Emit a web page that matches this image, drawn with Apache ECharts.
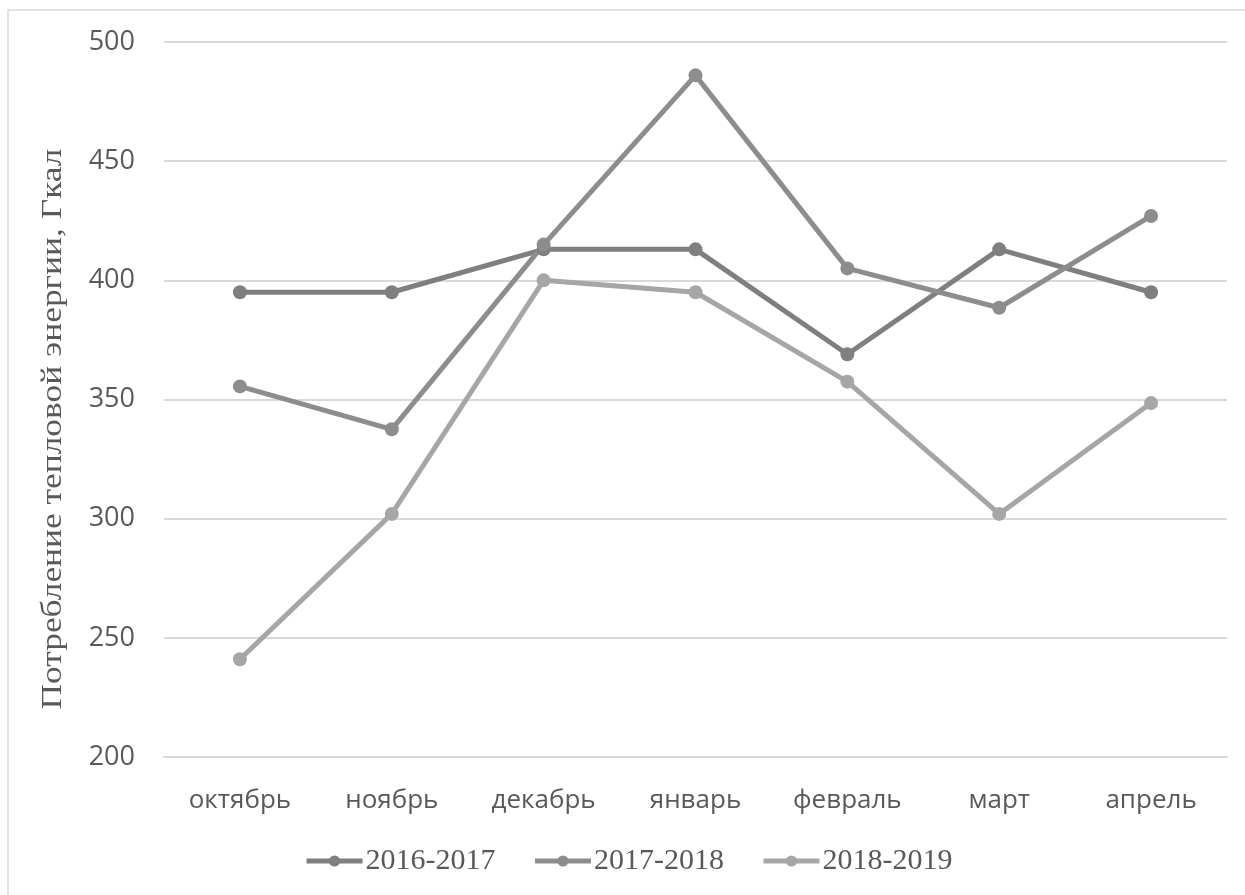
<!DOCTYPE html>
<html>
<head>
<meta charset="utf-8">
<script src="https://cdn.jsdelivr.net/npm/echarts@6/dist/echarts.min.js"></script>
<style>
  html, body { margin: 0; padding: 0; background: #ffffff; }
  #chart { width: 1245px; height: 895px; }
</style>
</head>
<body>
<div id="chart"></div>
<script>
// Monthly heat consumption over three heating seasons, Gcal
const months = ['октябрь', 'ноябрь', 'декабрь', 'январь', 'февраль', 'март', 'апрель'];
const seasonNames = ['2016-2017', '2017-2018', '2018-2019'];
const season2016 = [395, 395, 413, 413, 369, 413, 395];
const season2017 = [355.5, 337.5, 415, 486, 405, 388.5, 427];
const season2018 = [241, 302, 400, 395, 357.5, 302, 348.5];
const yTicks = { min: 200, max: 500, interval: 50 };
const yTitle = 'Потребление тепловой энергии, Гкал';

const colors = ['#7f7f7f', '#8d8d8d', '#a6a6a6'];
const textColor = '#595959';
const sans = '"Open Sans", "Noto Sans", sans-serif';
const serif = '"Liberation Serif", "DejaVu Serif", serif';

const chart = echarts.init(document.getElementById('chart'), null, { renderer: 'canvas' });

function lineSeries(name, data, color) {
  return {
    name: name,
    type: 'line',
    data: data,
    symbol: 'circle',
    symbolSize: 14,
    itemStyle: { color: color },
    lineStyle: { color: color, width: 5 },
    emphasis: { disabled: true },
    animation: false
  };
}

chart.setOption({
  backgroundColor: '#ffffff',
  animation: false,
  color: colors,
  grid: { left: 164, right: 18, top: 42, bottom: 138, containLabel: false },
  graphic: [
    {
      type: 'rect',
      shape: { x: 8, y: 10, width: 1240, height: 900 },
      style: { fill: 'none', stroke: '#d9d9d9', lineWidth: 1.5 },
      silent: true
    },
    {
      type: 'text',
      x: 53,
      y: 429,
      rotation: Math.PI / 2,
      scaleX: 1.18,
      scaleY: 1,
      style: {
        text: yTitle,
        font: '30px ' + serif,
        fill: textColor,
        align: 'center',
        verticalAlign: 'middle'
      },
      silent: true
    }
  ],
  legend: {
    data: seasonNames,
    left: 299,
    top: 841,
    itemWidth: 56,
    itemHeight: 14,
    itemGap: 37,
    lineStyle: { width: 5 },
    textStyle: { fontFamily: serif, fontSize: 30, color: textColor, padding: [0, 0, 0, -2] },
    selectedMode: false
  },
  xAxis: {
    type: 'category',
    data: months,
    boundaryGap: true,
    axisLine: { show: true, lineStyle: { color: '#d9d9d9', width: 2 } },
    axisTick: { show: false },
    axisLabel: { color: textColor, fontFamily: sans, fontSize: 26, margin: 31 }
  },
  yAxis: {
    type: 'value',
    min: yTicks.min,
    max: yTicks.max,
    interval: yTicks.interval,
    axisLine: { show: false },
    axisTick: { show: false },
    axisLabel: { color: textColor, fontFamily: sans, fontSize: 27, margin: 29 },
    splitLine: { lineStyle: { color: '#d9d9d9', width: 2 } }
  },
  series: [
    lineSeries(seasonNames[0], season2016, colors[0]),
    lineSeries(seasonNames[1], season2017, colors[1]),
    lineSeries(seasonNames[2], season2018, colors[2])
  ]
});
</script>
</body>
</html>
